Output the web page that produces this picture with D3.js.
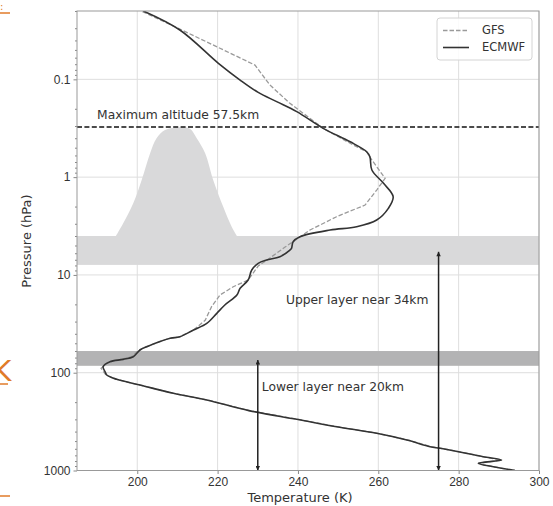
<!DOCTYPE html>
<html lang="en">
<head>
<meta charset="UTF-8">
<title>Temperature profile</title>
<script src="https://d3js.org/d3.v7.min.js"></script>
<style>
  body { margin: 0; background: #fff; }
  svg { display: block; font-family: "DejaVu Sans", sans-serif; }
  .tick text { fill: #333; font-size: 12px; }
</style>
</head>
<body>
<svg id="chart" width="553" height="506"></svg>
<script>
// ECMWF profile (temperature K, pressure hPa)
const ecmwfT = [201.5, 210.6, 220.2, 225.6, 230.1, 234.7, 239.7, 246.3, 253.0, 257.1, 257.9, 258.4, 261.3, 263.7, 262.5, 259.6, 254.6, 248.0, 240.5, 238.8, 238.4, 238.0, 235.5, 232.2, 230.1, 228.5, 227.6, 225.6, 224.8, 221.8, 219.8, 217.3, 214.0, 210.6, 208.2, 202.4, 200.7, 199.0, 196.5, 193.2, 191.5, 192.0, 192.4, 194.9, 200.7, 209.0, 217.3, 227.8, 239.7, 249.6, 259.6, 267.1, 272.9, 275.4, 281.2, 286.1, 290.7, 284.9, 288.6, 294.0];
const ecmwfP = [0.02, 0.0313, 0.0686, 0.1017, 0.136, 0.169, 0.214, 0.317, 0.435, 0.55, 0.618, 0.846, 1.157, 1.586, 2.085, 2.746, 3.215, 3.475, 4.07, 4.577, 5.35, 5.567, 6.52, 7.04, 7.61, 8.91, 11.28, 13.71, 16.06, 20.3, 24.7, 31.3, 36.6, 42.9, 44.5, 54.2, 58.6, 68.6, 73.0, 77.2, 86.9, 97.7, 105.6, 116.9, 133.7, 162.5, 190.3, 244, 299.7, 356.7, 416.6, 488, 571, 593, 658, 723, 781, 845, 915, 1000];

// GFS profile
const gfsT = [201.3, 210.6, 229.3, 233.0, 238.0, 246.3, 253.8, 257.1, 258.4, 261.7, 259.6, 256.7, 249.6, 243.0, 236.8, 233.0, 230.1, 227.6, 223.9, 220.6, 218.5, 216.9, 214.0, 210.6, 208.0, 202.2, 200.4, 198.6, 196.0, 192.8, 191.0, 191.6, 192.2, 194.8, 200.6, 209.0, 217.4, 227.9, 239.9, 249.8, 259.8, 267.4, 273.2, 275.6, 281.3, 286.0, 290.5, 284.8, 288.5, 294.0];
const gfsP = [0.0203, 0.0306, 0.0714, 0.114, 0.176, 0.317, 0.47, 0.55, 0.668, 1.029, 1.355, 1.929, 2.54, 3.475, 5.19, 6.72, 8.11, 11.28, 13.2, 16.06, 21.1, 29.1, 36.6, 42.9, 44.5, 54.2, 58.6, 68.6, 73.0, 77.2, 90, 97.7, 105.6, 116.9, 133.7, 162.5, 190.3, 244, 299.7, 356.7, 416.6, 488, 571, 593, 658, 723, 781, 845, 915, 1000];

// gray bell shape
const bellT = [194.7, 196.5, 199.0, 201.1, 203.2, 204.8, 206.9, 209.8, 213.1, 214.8, 216.9, 218.9, 221.4, 223.5, 224.8];
const bellP = [4.0, 2.97, 1.85, 1.07, 0.571, 0.401, 0.33, 0.31, 0.32, 0.401, 0.571, 1.07, 2.01, 3.215, 4.0];

// layers (hPa)
const upperBand = [4, 7.9];
const lowerBand = [60, 85];
const maxAltitudeP = 0.307;
const upperArrow = { T: 275, p: [1000, 5.8] };
const lowerArrow = { T: 230, p: [1000, 74] };

const xTicks = [200, 220, 240, 260, 280, 300];
const yTicks = [0.1, 1, 10, 100, 1000];
const yTickLabels = ["0.1", "1", "10", "100", "1000"];

const svg = d3.select("#chart");
const pLeft = 77, pRight = 539, pTop = 11, pBottom = 470.5;

const x = d3.scaleLinear().domain([185, 300]).range([pLeft, pRight]);
const y = d3.scaleLog().domain([1000, 0.02]).range([pBottom, pTop]);

const defs = svg.append("defs");
defs.append("clipPath").attr("id", "plot")
  .append("rect").attr("x", pLeft).attr("y", pTop)
  .attr("width", pRight - pLeft).attr("height", pBottom - pTop);

defs.append("marker")
  .attr("id", "head")
  .attr("viewBox", "0 0 10 10")
  .attr("refX", 10).attr("refY", 5)
  .attr("markerWidth", 5).attr("markerHeight", 4.5)
  .attr("markerUnits", "userSpaceOnUse")
  .attr("orient", "auto-start-reverse")
  .append("path").attr("d", "M0,0 L10,5 L0,10 z").attr("fill", "#222");

// grid
const grid = svg.append("g").attr("stroke", "#dedede").attr("stroke-width", 1);
xTicks.forEach(t => grid.append("line")
  .attr("x1", x(t)).attr("x2", x(t)).attr("y1", pTop).attr("y2", pBottom));
yTicks.forEach(t => grid.append("line")
  .attr("x1", pLeft).attr("x2", pRight).attr("y1", y(t)).attr("y2", y(t)));

const plot = svg.append("g").attr("clip-path", "url(#plot)");

// shaded layers
plot.append("rect")
  .attr("x", pLeft).attr("width", pRight - pLeft)
  .attr("y", y(upperBand[0])).attr("height", y(upperBand[1]) - y(upperBand[0]))
  .attr("fill", "#d9d9da");
plot.append("rect")
  .attr("x", pLeft).attr("width", pRight - pLeft)
  .attr("y", y(lowerBand[0])).attr("height", y(lowerBand[1]) - y(lowerBand[0]))
  .attr("fill", "#b3b3b4");

// bell
const bell = bellT.map((t, i) => [t, bellP[i]]);
plot.append("path")
  .attr("d", d3.line().x(d => x(d[0])).y(d => y(d[1])).curve(d3.curveCatmullRom.alpha(0.5))(bell) + "Z")
  .attr("fill", "#d9d9da");

// max altitude line
plot.append("line")
  .attr("x1", pLeft).attr("x2", pRight)
  .attr("y1", y(maxAltitudeP)).attr("y2", y(maxAltitudeP))
  .attr("stroke", "#111").attr("stroke-width", 1.6)
  .attr("stroke-dasharray", "5,2.4");

// profiles
const gfs = gfsT.map((t, i) => [t, gfsP[i]]);
const ecmwf = ecmwfT.map((t, i) => [t, ecmwfP[i]]);
plot.append("path")
  .attr("d", d3.line().x(d => x(d[0])).y(d => y(d[1])).curve(d3.curveLinear)(gfs))
  .attr("fill", "none").attr("stroke", "#9a9a9a").attr("stroke-width", 1.3)
  .attr("stroke-dasharray", "4.5,2");
plot.append("path")
  .attr("d", d3.line().x(d => x(d[0])).y(d => y(d[1])).curve(d3.curveCatmullRom.alpha(0.5))(ecmwf))
  .attr("fill", "none").attr("stroke", "#333").attr("stroke-width", 1.6);

// arrows
[upperArrow, lowerArrow].forEach(a => {
  svg.append("line")
    .attr("x1", x(a.T)).attr("x2", x(a.T))
    .attr("y1", y(a.p[0])).attr("y2", y(a.p[1]))
    .attr("stroke", "#222").attr("stroke-width", 1.5)
    .attr("marker-start", "url(#head)").attr("marker-end", "url(#head)");
});

// annotations
svg.append("text").attr("x", x(190)).attr("y", y(0.237))
  .attr("dominant-baseline", "middle").attr("font-size", 12.3).attr("fill", "#333")
  .text("Maximum altitude 57.5km");
svg.append("text").attr("x", x(237)).attr("y", y(18.4))
  .attr("dominant-baseline", "middle").attr("font-size", 12.3).attr("fill", "#333")
  .text("Upper layer near 34km");
svg.append("text").attr("x", x(231)).attr("y", y(140))
  .attr("dominant-baseline", "middle").attr("font-size", 12.3).attr("fill", "#333")
  .text("Lower layer near 20km");

// axes
svg.append("g").attr("transform", `translate(0,${pBottom})`)
  .call(d3.axisBottom(x).tickValues(xTicks).tickSize(3.5).tickPadding(3).tickFormat(d3.format("d")));
const minor = [];
for (let e = -2; e <= 2; e++) for (let m = 2; m <= 9; m++) {
  const v = m * Math.pow(10, e);
  if (v >= 0.02 && v < 1000) minor.push(v);
}
svg.append("g").attr("transform", `translate(${pLeft},0)`)
  .call(d3.axisLeft(y).tickValues(minor).tickSize(2).tickFormat(""));
svg.append("g").attr("transform", `translate(${pLeft},0)`)
  .call(d3.axisLeft(y).tickValues(yTicks).tickSize(3.5).tickPadding(3)
    .tickFormat((d, i) => yTickLabels[i]));
svg.selectAll(".tick line").attr("stroke", "#888");
svg.selectAll(".domain").remove();

// frame
svg.append("rect").attr("x", pLeft).attr("y", pTop)
  .attr("width", pRight - pLeft).attr("height", pBottom - pTop)
  .attr("fill", "none").attr("stroke", "#999").attr("stroke-width", 1);

// axis titles
svg.append("text").attr("x", 300).attr("y", 502)
  .attr("text-anchor", "middle").attr("font-size", 13).attr("fill", "#333")
  .text("Temperature (K)");
svg.append("text").attr("transform", "translate(30.5,241) rotate(-90)")
  .attr("text-anchor", "middle").attr("font-size", 13).attr("fill", "#333")
  .text("Pressure (hPa)");

// legend
const lg = svg.append("g");
lg.append("rect").attr("x", 437).attr("y", 18).attr("width", 95).attr("height", 42)
  .attr("rx", 3).attr("fill", "#fff").attr("fill-opacity", 0.85)
  .attr("stroke", "#d4d4d4");
lg.append("line").attr("x1", 443).attr("x2", 469).attr("y1", 30.5).attr("y2", 30.5)
  .attr("stroke", "#9a9a9a").attr("stroke-width", 1.3).attr("stroke-dasharray", "4.5,2");
lg.append("line").attr("x1", 443).attr("x2", 469).attr("y1", 47.5).attr("y2", 47.5)
  .attr("stroke", "#333").attr("stroke-width", 1.6);
lg.append("text").attr("x", 482).attr("y", 30.5).attr("dominant-baseline", "middle")
  .attr("font-size", 11.5).attr("fill", "#333").text("GFS");
lg.append("text").attr("x", 482).attr("y", 47.5).attr("dominant-baseline", "middle")
  .attr("font-size", 11.5).attr("fill", "#333").text("ECMWF");

// cropped fragments at left edge
const orange = "#e07b2a";
svg.append("text").attr("x", -7).attr("y", 381).attr("font-size", 28)
  .attr("fill", orange).text("K");
svg.append("line").attr("x1", 0).attr("x2", 8).attr("y1", 384).attr("y2", 384)
  .attr("stroke", orange).attr("stroke-width", 1.5);
svg.append("line").attr("x1", 0).attr("x2", 10).attr("y1", 13).attr("y2", 13)
  .attr("stroke", orange).attr("stroke-width", 1.5);
svg.append("text").attr("x", 0).attr("y", 10).attr("font-size", 10)
  .attr("fill", orange).text(":");
svg.append("line").attr("x1", 0).attr("x2", 10).attr("y1", 496).attr("y2", 496)
  .attr("stroke", orange).attr("stroke-width", 1.5);
</script>
</body>
</html>
